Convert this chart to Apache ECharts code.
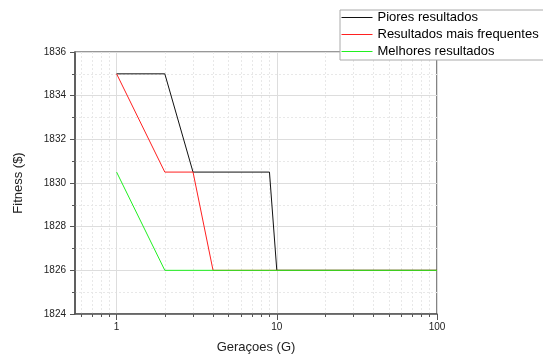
<!DOCTYPE html>
<html>
<head>
<meta charset="utf-8">
<script src="https://cdn.jsdelivr.net/npm/echarts@6/dist/echarts.min.js"></script>
<style>
  html, body { margin: 0; padding: 0; background: #fff; }
  #chart { width: 543px; height: 359px; }
</style>
</head>
<body>
<div id="chart"></div>
<script>
// generations (G) where the curves change
const generations = [1, 2, 3, 4, 9, 10, 100];
const worstResults = [1835, 1835, 1830.5, 1830.5, 1830.5, 1826, 1826];
const frequentResults = [1835, 1830.5, 1830.5, 1826, 1826, 1826, 1826];
const bestResults = [1830.5, 1826, 1826, 1826, 1826, 1826, 1826];

const seriesNames = ['Piores resultados', 'Resultados mais frequentes', 'Melhores resultados'];
const majorXTicks = [1, 10, 100];
const minorXTicks = [0.6, 0.7, 0.8, 0.9, 2, 3, 4, 5, 6, 7, 8, 9, 20, 30, 40, 50, 60, 70, 80, 90];

const font = 'Liberation Sans, Arial, sans-serif';
const pairs = (vals) => generations.map((g, i) => [g, vals[i]]);

const chart = echarts.init(document.getElementById('chart'));

const lineSeries = (name, vals, color) => ({
  name: name,
  type: 'line',
  data: pairs(vals),
  symbol: 'none',
  lineStyle: { color: color, width: 1 },
  itemStyle: { color: color },
  emphasis: { disabled: true },
  z: 5
});

chart.setOption({
  animation: false,
  backgroundColor: '#fff',
  textStyle: { fontFamily: font },
  grid: {
    left: 75, right: 106, top: 52, bottom: 40,
    show: true, borderColor: '#333', borderWidth: 1.2
  },
  legend: {
    orient: 'vertical',
    left: 340, top: 10,
    itemWidth: 31, itemHeight: 12, itemGap: 4,
    padding: [1, 12, 2, 1],
    backgroundColor: '#fff',
    borderColor: '#aaa', borderWidth: 1,
    itemStyle: { opacity: 0 },
    lineStyle: { width: 1 },
    textStyle: { fontSize: 13, color: '#000', fontFamily: font },
    data: seriesNames,
    z: 10
  },
  xAxis: [
    {
      type: 'log', logBase: 10, min: 0.55, max: 100,
      position: 'bottom',
      name: 'Geraçoes (G)', nameLocation: 'middle', nameGap: 27,
      nameTextStyle: { fontSize: 13, color: '#222', fontFamily: font },
      axisLine: { show: true, lineStyle: { color: '#555', width: 1.5 } },
      axisTick: { show: true, customValues: majorXTicks, length: 6, lineStyle: { color: '#555' } },
      axisLabel: { customValues: majorXTicks, fontSize: 10, color: '#222', margin: 8, fontFamily: font },
      splitLine: { show: true, lineStyle: { color: '#ddd', width: 1 } }
    },
    {
      type: 'log', logBase: 10, min: 0.55, max: 100,
      position: 'bottom',
      axisLine: { show: false },
      axisTick: { show: true, customValues: minorXTicks, length: 3, lineStyle: { color: '#555' } },
      axisLabel: { show: false },
      splitLine: { show: true, lineStyle: { color: '#e8e8e8', width: 1, type: [2, 2] } }
    }
  ],
  yAxis: {
    type: 'value', min: 1824, max: 1836, interval: 2,
    name: 'Fitness ($)', nameLocation: 'middle', nameGap: 50,
    nameTextStyle: { fontSize: 13, color: '#222', fontFamily: font },
    axisLine: { show: true, lineStyle: { color: '#555', width: 1.5 } },
    axisTick: { show: true, length: 5, lineStyle: { color: '#555' } },
    minorTick: { show: true, splitNumber: 2, length: 3, lineStyle: { color: '#555' } },
    axisLabel: { fontSize: 10, color: '#222', margin: 9, fontFamily: font, formatter: (v) => String(v) },
    splitLine: { show: true, lineStyle: { color: '#ddd', width: 1 } },
    minorSplitLine: { show: true, lineStyle: { color: '#e8e8e8', width: 1, type: [2, 2] } }
  },
  series: [
    lineSeries(seriesNames[0], worstResults, '#111'),
    lineSeries(seriesNames[1], frequentResults, '#ff2020'),
    lineSeries(seriesNames[2], bestResults, '#20f020')
  ]
});
</script>
</body>
</html>
